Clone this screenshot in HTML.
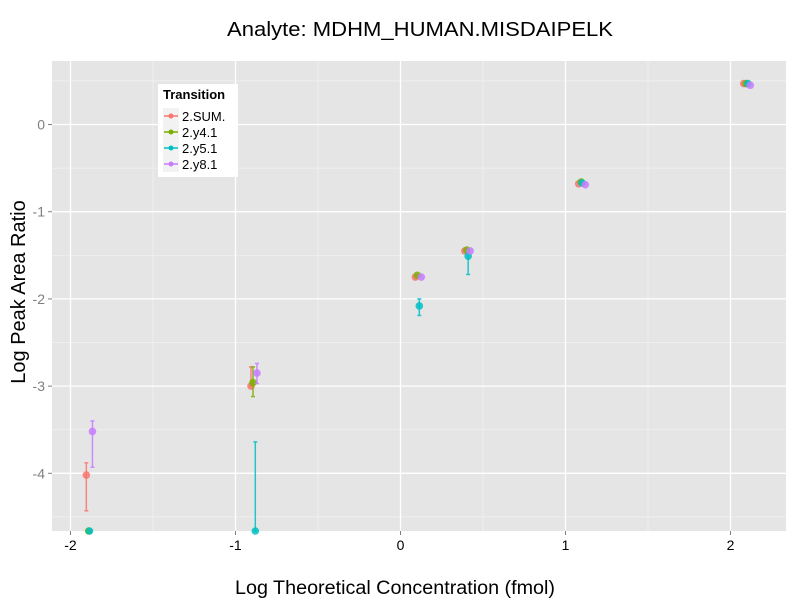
<!DOCTYPE html>
<html><head><meta charset="utf-8"><style>body{margin:0;background:#fff}svg{display:block}text{font-family:"Liberation Sans",sans-serif}</style></head>
<body>
<svg id="chart" width="800" height="600" xmlns="http://www.w3.org/2000/svg">
<text x="420" y="36" font-size="20" text-anchor="middle" textLength="386" lengthAdjust="spacingAndGlyphs">Analyte: MDHM_HUMAN.MISDAIPELK</text>
<rect x="52" y="61" width="734" height="470" fill="#e5e5e5"/>
<g id="grid"></g><g id="axes"></g><g id="marks"></g>
<text x="395" y="594" font-size="19" text-anchor="middle" textLength="320" lengthAdjust="spacingAndGlyphs">Log Theoretical Concentration (fmol)</text>
<text transform="translate(25,292) rotate(-90)" font-size="20" text-anchor="middle">Log Peak Area Ratio</text>
<g>
<rect x="158" y="84" width="80" height="93" fill="#fff"/>
<text x="163" y="99" font-size="13" font-weight="bold">Transition</text>
<g id="legend"></g>
</g>
</svg>
<script>
const series = ["2.SUM.","2.y4.1","2.y5.1","2.y8.1"];
const colors = ["#F8766D","#7CAE00","#00BFC4","#C77CFF"];
const xTicks = [-2,-1,0,1,2];
const yTicks = [-4,-3,-2,-1,0];
// per series: x, y, ymin, ymax
const sumX = [-1.904,-0.906,0.09,0.39,1.08,2.08];
const sumY = [-4.02,-3.0,-1.75,-1.45,-0.68,0.47];
const sumLo = [-4.43,-3.0,-1.75,-1.45,-0.68,0.47];
const sumHi = [-3.88,-2.78,-1.75,-1.45,-0.68,0.47];
const y4X = [-1.89,-0.894,0.102,0.402,1.095,2.095];
const y4Y = [-4.69,-2.96,-1.73,-1.44,-0.66,0.47];
const y4Lo = [-4.69,-3.12,-1.73,-1.44,-0.66,0.47];
const y4Hi = [-4.69,-2.78,-1.73,-1.44,-0.66,0.47];
const y5X = [-1.885,-0.88,0.114,0.41,1.1,2.105];
const y5Y = [-4.69,-4.69,-2.08,-1.51,-0.67,0.47];
const y5Lo = [-4.69,-4.69,-2.19,-1.72,-0.67,0.47];
const y5Hi = [-4.69,-3.64,-2.0,-1.44,-0.67,0.47];
const y8X = [-1.867,-0.87,0.126,0.422,1.12,2.12];
const y8Y = [-3.52,-2.85,-1.75,-1.45,-0.69,0.45];
const y8Lo = [-3.93,-2.97,-1.75,-1.45,-0.69,0.45];
const y8Hi = [-3.40,-2.74,-1.75,-1.45,-0.69,0.45];

const NS="http://www.w3.org/2000/svg";
const X0=52,X1=786,Y0=61,Y1=531;
function sx(v){return 400.5+165*v;}
function sy(v){return 124.5-87.2*v;}
function mk(tag,attrs,parent){const e=document.createElementNS(NS,tag);for(const k in attrs)e.setAttribute(k,attrs[k]);parent.appendChild(e);return e;}
const grid=document.getElementById('grid'),axes=document.getElementById('axes'),marks=document.getElementById('marks');
for(let v=-2.5;v<=2.5;v+=1){const l=mk('line',{x1:sx(v),x2:sx(v),y1:Y0,y2:Y1,stroke:'#f2f2f2','stroke-width':0.7},grid);}
for(let v=-4.5;v<=0.5;v+=1){const l=mk('line',{x1:X0,x2:X1,y1:sy(v),y2:sy(v),stroke:'#f2f2f2','stroke-width':0.7},grid);}
xTicks.forEach(v=>{const l=mk('line',{x1:sx(v),x2:sx(v),y1:Y0,y2:Y1,stroke:'#fff','stroke-width':1.3},grid);
 mk('line',{x1:sx(v),x2:sx(v),y1:Y1,y2:Y1+4,stroke:'#7f7f7f'},axes);
 const t=mk('text',{x:sx(v),y:Y1+19,'font-size':14,'text-anchor':'middle',fill:'#000'},axes);t.textContent=v;});
yTicks.forEach(v=>{const l=mk('line',{x1:X0,x2:X1,y1:sy(v),y2:sy(v),stroke:'#fff','stroke-width':1.3},grid);
 mk('line',{x1:X0-4,x2:X0,y1:sy(v),y2:sy(v),stroke:'#7f7f7f'},axes);
 const t=mk('text',{x:X0-7,y:sy(v)+5,'font-size':14,'text-anchor':'end',fill:'#7f7f7f'},axes);t.textContent=v;});
const data=[[sumX,sumY,sumLo,sumHi],[y4X,y4Y,y4Lo,y4Hi],[y5X,y5Y,y5Lo,y5Hi],[y8X,y8Y,y8Lo,y8Hi]];
data.forEach((d,si)=>{const c=colors[si];
 d[0].forEach((xv,i)=>{const x=sx(xv);const lo=Math.max(Y0,Math.min(Y1,sy(d[2][i]))),hi=Math.max(Y0,Math.min(Y1,sy(d[3][i])));
  if(Math.abs(lo-hi)>1){const g=mk('g',{stroke:c,'stroke-width':1.5,opacity:0.85},marks);
   
   mk('line',{x1:x,x2:x,y1:lo,y2:hi},g);mk('line',{x1:x-2,x2:x+2,y1:lo,y2:lo},g);mk('line',{x1:x-2,x2:x+2,y1:hi,y2:hi},g);}
  const p=mk('circle',{cx:x,cy:Math.min(Y1,sy(d[1][i])),r:3.8,fill:c,opacity:0.85},marks);
  });});
const lg=document.getElementById('legend');
series.forEach((s,i)=>{const y=116+i*16;
 mk('rect',{x:163,y:y-8,width:16,height:16,fill:'#f2f2f2'},lg);
 mk('line',{x1:164,x2:178,y1:y,y2:y,stroke:colors[i],'stroke-width':1.5},lg);
 mk('circle',{cx:171,cy:y,r:2.5,fill:colors[i]},lg);
 const t=mk('text',{x:182,y:y+5,'font-size':13},lg);t.textContent=s;});
</script>
</body></html>
